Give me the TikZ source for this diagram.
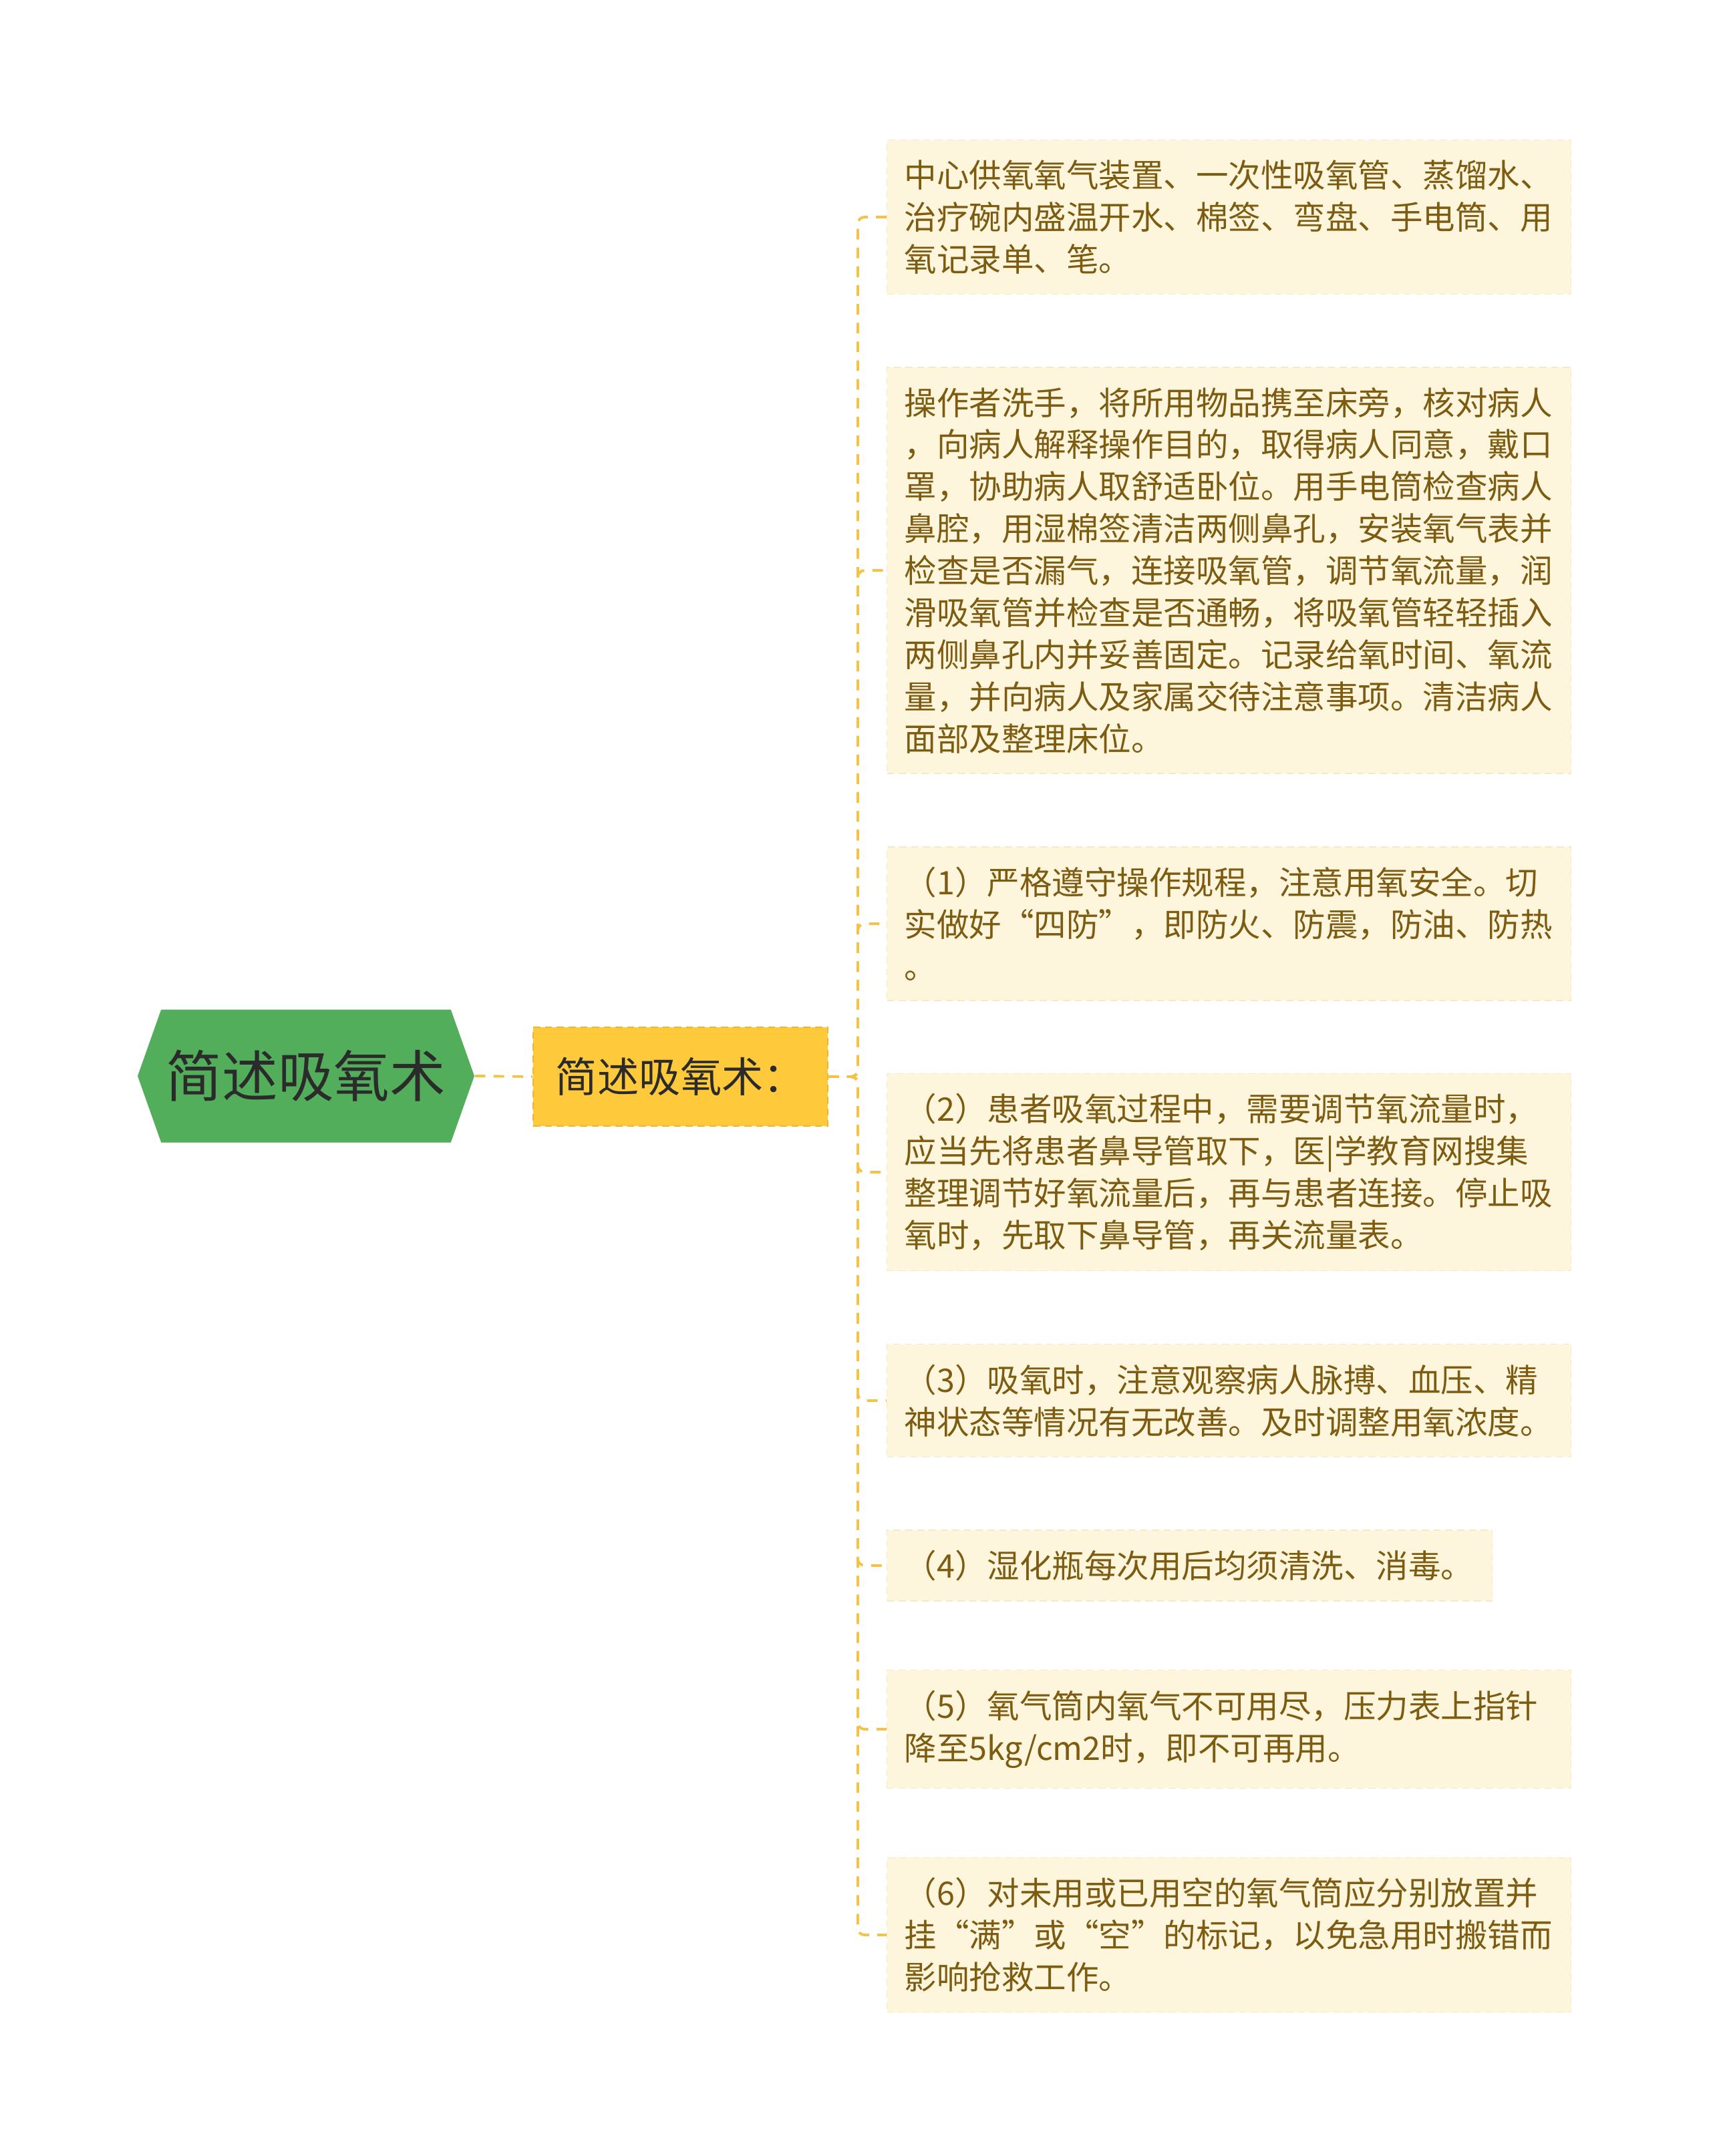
\documentclass[tikz,border=0pt]{standalone}
\usepackage{fontspec}
\setmainfont{Noto Sans CJK SC}
\usepackage{xcolor}
\usepackage{tikz}
\usetikzlibrary{shapes,shapes.symbols,positioning,calc}

\definecolor{rootgreen}{HTML}{52AE5A}
\definecolor{rootink}{HTML}{2B2B2B}
\definecolor{midyellow}{HTML}{FFC93C}
\definecolor{midedge}{HTML}{F2B52C}
\definecolor{leaffill}{HTML}{FEF6DC}
\definecolor{leafedge}{HTML}{F7EAC2}
\definecolor{leafink}{HTML}{7D5C12}
\definecolor{linkgold}{HTML}{F5C246}

\begin{document}
\begin{tikzpicture}[
  root/.style={signal,signal to=west and east,signal pointer angle=141,fill=rootgreen,
    minimum width=5.04cm,minimum height=1.99cm,inner sep=0pt,text=rootink,
    font=\fontsize{23.8}{28}\selectfont},
  topic/.style={draw=midedge,dash pattern=on 3pt off 2pt,fill=midyellow,rectangle,
    minimum width=4.41cm,minimum height=1.48cm,inner sep=0pt,text=rootink,
    font=\fontsize{17.7}{21}\selectfont},
  leaf/.style={draw=leafedge,dash pattern=on 3pt off 2pt,fill=leaffill,rectangle,anchor=west,
    text width=9.72cm,align=left,inner xsep=0.26cm,inner ysep=0.3cm,text=leafink,
    font=\fontsize{13.8}{17.9}\selectfont},
  link/.style={draw=linkgold,line width=1.1pt,dash pattern=on 4.5pt off 3.5pt,rounded corners=0.1cm}
]
\useasboundingbox (0,0) rectangle (25.6,-32.28);
\fill[white] (0,0) rectangle (25.6,-32.28);

% main topic
\node[root] (root) at (4.58,-16.11) {简述吸氧术};
\node[topic] (topic) at (10.185,-16.12) {简述吸氧术：};
\draw[link] (root.east) -- (topic.west);

% details
\node[leaf] (equip) at (13.27,-3.25) {中心供氧氧气装置、一次性吸氧管、蒸馏水、\\
治疗碗内盛温开水、棉签、弯盘、手电筒、用\\
氧记录单、笔。};

\node[leaf] (steps) at (13.27,-8.54) {操作者洗手，将所用物品携至床旁，核对病人\\
，向病人解释操作目的，取得病人同意，戴口\\
罩，协助病人取舒适卧位。用手电筒检查病人\\
鼻腔，用湿棉签清洁两侧鼻孔，安装氧气表并\\
检查是否漏气，连接吸氧管，调节氧流量，润\\
滑吸氧管并检查是否通畅，将吸氧管轻轻插入\\
两侧鼻孔内并妥善固定。记录给氧时间、氧流\\
量，并向病人及家属交待注意事项。清洁病人\\
面部及整理床位。};

\node[leaf] (note1) at (13.27,-13.83) {（1）严格遵守操作规程，注意用氧安全。切\\
实做好“四防”，即防火、防震，防油、防热\\
。};

\node[leaf] (note2) at (13.27,-17.55) {（2）患者吸氧过程中，需要调节氧流量时，\\
应当先将患者鼻导管取下，医|学教育网搜集\\
整理调节好氧流量后，再与患者连接。停止吸\\
氧时，先取下鼻导管，再关流量表。};

\node[leaf] (note3) at (13.27,-20.97) {（3）吸氧时，注意观察病人脉搏、血压、精\\
神状态等情况有无改善。及时调整用氧浓度。};

\node[leaf,text width=8.54cm] (note4) at (13.27,-23.44) {（4）湿化瓶每次用后均须清洗、消毒。};

\node[leaf] (note5) at (13.27,-25.89) {（5）氧气筒内氧气不可用尽，压力表上指针\\
降至5kg/cm2时，即不可再用。};

\node[leaf] (note6) at (13.27,-28.97) {（6）对未用或已用空的氧气筒应分别放置并\\
挂“满”或“空”的标记，以免急用时搬错而\\
影响抢救工作。};

% branches
\coordinate (hub) at (12.84,-16.12);
\foreach \n in {equip,steps,note1,note2,note3,note4,note5,note6}
  \draw[link] (topic.east) -- (hub) |- (\n.west);

\end{tikzpicture}
\end{document}
